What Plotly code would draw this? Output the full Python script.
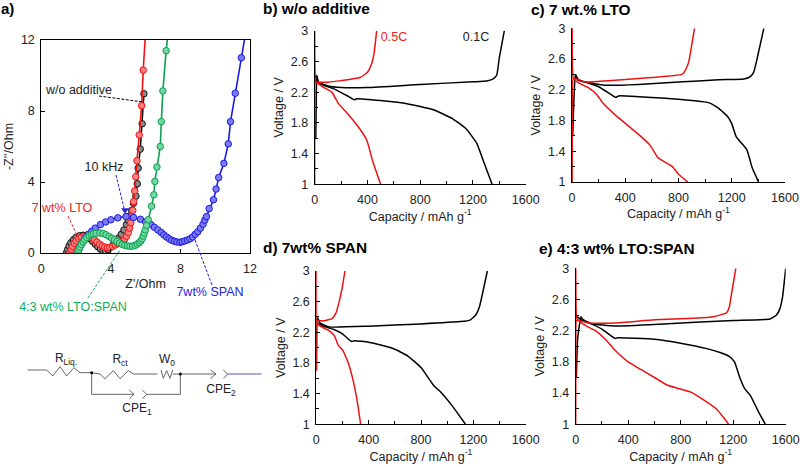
import plotly.graph_objects as go

W, H = 800, 467

# ---- Panel a: Nyquist data ----
black_zr = [1.45,1.52,1.6,1.7,1.85,2.0,2.2,2.4,2.6,2.8,2.95,3.1,3.25,3.4,3.55,3.7,3.85,4.0,4.15,4.3,4.45,4.6,4.75,4.9,5.0,5.1,5.2,5.3,5.44,5.52,5.57,5.69,5.8,5.9]
black_zi = [0.02,0.2,0.4,0.58,0.75,0.88,0.97,1.0,0.95,0.8,0.65,0.5,0.35,0.22,0.13,0.12,0.2,0.33,0.48,0.65,0.85,1.05,1.3,1.6,1.85,2.1,2.4,2.8,3.2,3.9,4.78,5.85,7.28,8.97]
red_zr = [1.65,1.72,1.8,1.9,2.0,2.15,2.3,2.5,2.7,2.9,3.05,3.2,3.35,3.5,3.65,3.8,3.95,4.1,4.25,4.4,4.55,4.7,4.8,4.9,5.0,5.08,5.14,5.2,5.26,5.31,5.37,5.43,5.5,5.63,5.77,5.86,5.98]
red_zi = [0.02,0.2,0.38,0.55,0.68,0.8,0.88,0.93,0.92,0.85,0.75,0.62,0.5,0.4,0.33,0.3,0.32,0.38,0.45,0.52,0.6,0.7,0.8,0.95,1.15,1.4,1.7,2.05,2.4,2.9,3.5,4.3,5.2,6.65,8.3,10.3,12.2]
blue_zr = [2.1,2.18,2.28,2.4,2.55,2.7,2.9,3.1,3.4,3.7,4.0,4.4,4.87,5.3,5.7,6.0,6.3,6.5,6.7,6.9,7.05,7.2,7.35,7.5,7.65,7.8,7.97,8.1,8.25,8.4,8.55,8.7,8.85,9.0,9.15,9.3,9.4,9.5,9.65,9.9,10.05,10.2,10.5,10.75,10.88,11.15,11.5,11.75]
blue_zi = [0.02,0.25,0.45,0.65,0.85,1.05,1.22,1.4,1.6,1.75,1.87,1.98,2.06,2.0,1.9,1.75,1.6,1.45,1.3,1.15,1.02,0.9,0.8,0.72,0.66,0.62,0.6,0.63,0.68,0.73,0.8,0.9,1.05,1.2,1.4,1.62,1.85,2.05,2.5,3.0,3.6,4.25,5.05,6.15,7.4,9.0,11.0,12.4]
green_zr = [2.09,2.15,2.22,2.3,2.4,2.5,2.62,2.75,2.88,3.0,3.15,3.37,3.55,3.72,3.9,4.05,4.2,4.35,4.5,4.65,4.8,4.95,5.1,5.25,5.4,5.52,5.63,5.72,5.8,5.86,5.92,5.98,6.05,6.15,6.34,6.47,6.53,6.65,6.84,6.9,6.99,7.18,7.3]
green_zi = [0.02,0.18,0.33,0.48,0.62,0.75,0.87,0.97,1.03,1.08,1.11,1.13,1.1,1.03,0.93,0.83,0.74,0.65,0.56,0.48,0.43,0.4,0.38,0.39,0.43,0.5,0.58,0.68,0.8,0.95,1.12,1.3,1.55,1.88,2.63,3.28,4.03,4.84,6.0,7.4,9.13,11.4,12.5]

# ---- Panels b-e: capacity (mAh/g) and voltage (V) ----
b_blk_chg_x = [8,12,16,30,100,200,400,800,1200,1304,1350,1380,1400,1438]
b_blk_chg_y = [1.6,2.1,2.42,2.33,2.28,2.26,2.26,2.3,2.335,2.345,2.37,2.42,2.65,3.0]
b_blk_dis_x = [5,50,150,250,300,320,500,700,900,1050,1150,1230,1280,1345]
b_blk_dis_y = [2.36,2.3,2.24,2.15,2.1,2.115,2.09,2.05,1.97,1.85,1.72,1.53,1.3,1.0]
b_red_chg_x = [0,0,3,10,100,200,344,400,432,450,470]
b_red_chg_y = [1.0,2.0,2.33,2.33,2.33,2.35,2.39,2.46,2.57,2.7,3.0]
b_red_dis_x = [0,2,10,60,130,180,250,330,394,440,500]
b_red_dis_y = [3.0,2.5,2.33,2.27,2.2,2.05,1.92,1.75,1.58,1.3,1.0]

c_blk_chg_x = [5,15,25,40,100,250,500,800,1100,1290,1340,1365,1390,1441]
c_blk_chg_y = [1.6,2.1,2.4,2.33,2.3,2.26,2.27,2.3,2.33,2.34,2.37,2.43,2.6,3.0]
c_blk_dis_x = [25,50,120,200,300,330,350,500,700,900,1030,1100,1170,1200,1233,1313,1351,1375,1401]
c_blk_dis_y = [2.4,2.33,2.29,2.24,2.13,2.1,2.12,2.11,2.09,2.06,2.03,1.96,1.85,1.76,1.59,1.42,1.2,1.1,1.0]
c_red_chg_x = [1,2,10,100,300,600,825,850,875,920]
c_red_chg_y = [1.0,2.0,2.35,2.3,2.32,2.36,2.4,2.45,2.55,3.0]
c_red_dis_x = [1,3,10,50,120,190,230,320,430,500,586,640,667,754,800,870]
c_red_dis_y = [3.0,2.5,2.35,2.29,2.23,2.13,2.03,1.88,1.72,1.62,1.48,1.33,1.29,1.2,1.1,1.0]

d_blk_chg_x = [1,3,6,30,100,400,800,1100,1175,1220,1246,1307]
d_blk_chg_y = [1.7,2.1,2.4,2.32,2.27,2.28,2.31,2.34,2.36,2.43,2.53,3.0]
d_blk_dis_x = [3,50,130,200,270,290,400,500,600,700,800,900,945,1034,1090,1140]
d_blk_dis_y = [2.33,2.28,2.24,2.18,2.08,2.09,2.07,2.03,1.98,1.89,1.74,1.5,1.43,1.25,1.12,1.0]
d_red_chg_x = [0,1,5,15,60,120,150,175,200,219]
d_red_chg_y = [1.7,2.1,2.33,2.35,2.35,2.38,2.45,2.6,2.8,3.0]
d_red_dis_x = [0,1,5,30,100,140,168,201,245,283,313,339]
d_red_dis_y = [3.0,2.5,2.33,2.28,2.22,2.15,2.03,1.97,1.8,1.56,1.3,1.0]

e_blk_chg_x = [5,15,40,50,120,300,700,1200,1480,1530,1555,1575,1600]
e_blk_chg_y = [1.6,2.1,2.38,2.35,2.29,2.26,2.29,2.33,2.35,2.4,2.48,2.62,3.0]
e_blk_dis_x = [10,50,100,200,300,320,600,800,1000,1100,1170,1210,1250,1290,1330,1390,1445]
e_blk_dis_y = [2.38,2.33,2.3,2.22,2.1,2.11,2.09,2.04,1.97,1.92,1.87,1.8,1.6,1.45,1.37,1.17,1.0]
e_red_chg_x = [0,1,5,20,100,300,600,900,1050,1150,1170,1190,1220]
e_red_chg_y = [1.0,2.0,2.33,2.33,2.3,2.3,2.34,2.36,2.38,2.43,2.5,2.7,3.0]
e_red_dis_x = [0,2,8,60,150,220,300,400,500,600,700,780,880,960,1070,1130,1165]
e_red_dis_y = [3.0,2.6,2.36,2.28,2.2,2.1,1.95,1.8,1.7,1.6,1.5,1.46,1.41,1.33,1.2,1.08,1.0]

y_ticks = [1, 1.4, 1.8, 2.2, 2.6, 3]
x_ticks = [0, 400, 800, 1200, 1600]
z_ticks = [0, 4, 8, 12]

FONT = "Liberation Sans"
TXT = "#222222"
LBL = 12.5
fig = go.Figure()

def dx(a, b): return [a / W, b / W]
def dy(top, bot): return [1 - bot / H, 1 - top / H]

panels = {
    "": ((41.3, 250), (40, 253)),
    "2": ((314.7, 525.7), (30.7, 184.3)),
    "3": ((572, 785), (28.3, 182)),
    "4": ((316.3, 525.7), (271, 424.3)),
    "5": ((575.7, 785.7), (268.3, 424.3)),
}

series = [
    (black_zr, black_zi, "#111111", "#8a8a8a"),
    (red_zr, red_zi, "#f01010", "#ff7f7f"),
    (blue_zr, blue_zi, "#1a1ae0", "#7a7af5"),
    (green_zr, green_zi, "#0aa050", "#70d8a0"),
]
for xs, ys, c, f in series:
    fig.add_trace(go.Scatter(x=xs, y=ys, mode="lines+markers", xaxis="x", yaxis="y",
                             line=dict(color=c, width=1.6),
                             marker=dict(size=6.5, color=f, line=dict(color=c, width=1)),
                             cliponaxis=True, showlegend=False))

curves = [
    ("2", b_blk_chg_x, b_blk_chg_y, b_blk_dis_x, b_blk_dis_y, b_red_chg_x, b_red_chg_y, b_red_dis_x, b_red_dis_y),
    ("3", c_blk_chg_x, c_blk_chg_y, c_blk_dis_x, c_blk_dis_y, c_red_chg_x, c_red_chg_y, c_red_dis_x, c_red_dis_y),
    ("4", d_blk_chg_x, d_blk_chg_y, d_blk_dis_x, d_blk_dis_y, d_red_chg_x, d_red_chg_y, d_red_dis_x, d_red_dis_y),
    ("5", e_blk_chg_x, e_blk_chg_y, e_blk_dis_x, e_blk_dis_y, e_red_chg_x, e_red_chg_y, e_red_dis_x, e_red_dis_y),
]
for k, a, b, c, d, e, f, g, h in curves:
    for xs, ys, col in ((a, b, "black"), (c, d, "black"), (e, f, "#ee1111"), (g, h, "#ee1111")):
        fig.add_trace(go.Scatter(x=xs, y=ys, mode="lines", xaxis="x" + k, yaxis="y" + k,
                                 line=dict(color=col, width=1.5, shape="spline", smoothing=0.4),
                                 showlegend=False))

layout = dict(width=W, height=H, margin=dict(l=0, r=0, t=0, b=0, autoexpand=False), paper_bgcolor="white",
              plot_bgcolor="rgba(0,0,0,0)", showlegend=False, font=dict(family=FONT, size=12, color=TXT))

for k, (xd, yd) in panels.items():
    xn, yn = "xaxis" + k, "yaxis" + k
    common = dict(ticks="inside", ticklen=4, tickcolor="black", showline=True, linecolor="black", linewidth=1,
                  showgrid=False, zeroline=False, tickfont=dict(size=LBL, color=TXT), automargin=False)
    if k == "":
        layout[xn] = dict(domain=dx(*xd), anchor="y", range=[0, 12], tickvals=z_ticks, mirror=True, ticklabelstandoff=4, **common,
                          title=dict(text="Z'/Ohm", font=dict(size=LBL, color=TXT), standoff=4))
        layout[yn] = dict(domain=dy(*yd), anchor="x", range=[0, 12], tickvals=z_ticks, mirror=True, ticklabelstandoff=3, **common,
                          title=dict(text="-Z''/Ohm", font=dict(size=LBL, color=TXT), standoff=4))
    else:
        layout[xn] = dict(domain=dx(*xd), anchor="y" + k, range=[0, 1600], tickvals=x_ticks, ticklabelstandoff=4, **common,
                          minor=dict(tick0=0, dtick=200, ticks="inside", ticklen=3, tickcolor="black", showgrid=False),
                          title=dict(text="Capacity / mAh g<sup>-1</sup>", font=dict(size=LBL, color=TXT), standoff=4))
        layout[yn] = dict(domain=dy(*yd), anchor="x" + k, range=[1, 3], tickvals=y_ticks, ticklabelstandoff=3, **common,
                          minor=dict(tick0=1, dtick=0.2, ticks="inside", ticklen=3, tickcolor="black", showgrid=False),
                          title=dict(text="Voltage / V", font=dict(size=LBL, color=TXT), standoff=4))

# full-page overlay axes measured in page pixels, used only for labels and the schematic
layout["xaxis6"] = dict(domain=[0, 1], range=[0, W], visible=False, anchor="y6", fixedrange=True)
layout["yaxis6"] = dict(domain=[0, 1], range=[H, 0], visible=False, anchor="x6", fixedrange=True)
fig.update_layout(**layout)

def note(text, x, y, color=TXT, size=LBL, bold=False, anchor="center"):
    t = f"<b>{text}</b>" if bold else text
    fig.add_trace(go.Scatter(x=[x], y=[y], mode="text", text=[t], xaxis="x6", yaxis="y6", showlegend=False,
                             textposition="middle center" if anchor == "center" else "middle right",
                             cliponaxis=False, hoverinfo="skip",
                             textfont=dict(family=FONT, size=size, color=color)))

def seg(pts, color, width=1, dash="solid"):
    fig.add_trace(go.Scatter(x=[p[0] for p in pts], y=[p[1] for p in pts], mode="lines", xaxis="x6", yaxis="y6",
                             showlegend=False, hoverinfo="skip", line=dict(color=color, width=width, dash=dash)))

seg([(99, 96), (143, 102)], "black", 1, "3px,1.5px")
seg([(68, 216), (77, 235)], "#ee2222", 1, "3px,1.5px")
seg([(88, 298), (120, 250)], "#0fae5a", 1, "3px,1.5px")
seg([(195, 240), (212, 285)], "#2222dd", 1, "3px,1.5px")
seg([(116, 175), (124, 208)], "#2222dd", 1, "3px,1.5px")
fig.add_trace(go.Scatter(x=[125], y=[210], mode="markers", xaxis="x6", yaxis="y6", showlegend=False, hoverinfo="skip",
                         marker=dict(symbol="triangle-down", size=7, color="#2222dd", line=dict(width=0))))

note("a)", 1, 10, "black", 15, True, "left")
note("b) w/o additive", 263, 10, "black", 15.4, True, "left")
note("c) 7 wt.% LTO", 531, 11, "black", 15.4, True, "left")
note("d) 7wt% SPAN", 263, 249, "black", 15.4, True, "left")
note("e) 4:3 wt% LTO:SPAN", 539, 250, "black", 15.4, True, "left")

note("w/o additive", 79, 91)
note("10 kHz", 104, 168)
note("7 wt% LTO", 62, 209, "#ee2222")
note("7wt% SPAN", 210, 293, "#2222dd")
note("4:3 wt% LTO:SPAN", 73, 308, "#0fae5a")
note("0.5C", 394, 38, "#ee2222")
note("0.1C", 476, 38, TXT)

# Equivalent circuit
def cz(points):
    return [(x / 3, 300 + y / 3) for x, y in points]

GR = "#666666"
seg(cz([(83,210),(140,210),(158,228),(180,200),(200,228),(222,203),(240,218),(275,218),(300,222),(315,236),(340,212),(360,236),(385,212),(400,222),(472,222)]), GR, 1)
seg(cz([(483,210),(490,235),(500,212),(510,235),(518,210)]), GR, 1)
seg(cz([(518,222),(648,222)]), GR, 1)
seg(cz([(632,210),(648,222),(632,235)]), GR, 1)
seg(cz([(670,210),(683,222),(670,235)]), GR, 1)
seg(cz([(683,222),(785,222)]), "#5555cc", 1)
seg(cz([(275,218),(275,283),(402,283)]), GR, 1)
seg(cz([(388,270),(402,283),(388,296)]), GR, 1)
seg(cz([(427,270),(440,283),(427,296)]), GR, 1)
seg(cz([(440,283),(541,283),(541,222)]), GR, 1)
nodes = cz([(275,218),(541,222)])
fig.add_trace(go.Scatter(x=[n[0] for n in nodes], y=[n[1] for n in nodes], mode="markers", xaxis="x6", yaxis="y6",
                         showlegend=False, hoverinfo="skip", marker=dict(size=3, color="black")))

note("R<sub>Liq.</sub>", 66, 359, TXT, 12)
note("R<sub>ct</sub>", 120, 360, TXT, 12)
note("W<sub>0</sub>", 167, 360, TXT, 12)
note("CPE<sub>2</sub>", 221, 390, TXT, 12)
note("CPE<sub>1</sub>", 137, 409, TXT, 12)

fig.write_html("out.html", config=dict(displayModeBar=False), post_script="document.body.style.margin='0';")
